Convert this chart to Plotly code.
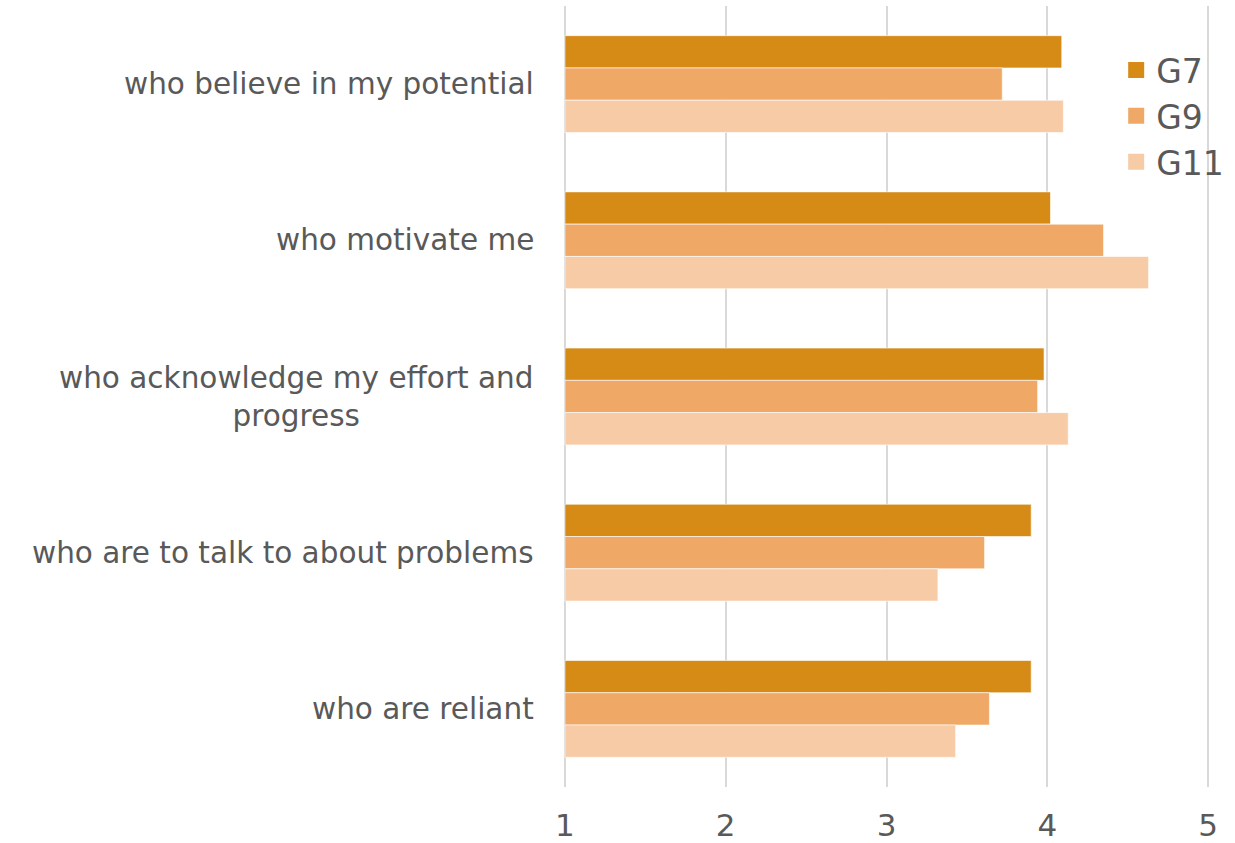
import plotly.graph_objects as go

# Survey items (top to bottom) and mean scores per grade
categories = [
    "who believe in my potential",
    "who motivate me",
    "who acknowledge my effort and<br>progress",
    "who are to talk to about problems",
    "who are reliant",
]
g7 = [4.09, 4.02, 3.98, 3.90, 3.90]
g9 = [3.72, 4.35, 3.94, 3.61, 3.64]
g11 = [4.10, 4.63, 4.13, 3.32, 3.43]

series = [("G7", g7, "#D68B17"), ("G9", g9, "#F0A866"), ("G11", g11, "#F7CBA6")]
x_ticks = [1, 2, 3, 4, 5]

TEXT = "#595959"
FONT = "DejaVu Sans"

fig = go.Figure()
for name, vals, color in series:
    fig.add_trace(go.Bar(
        y=categories, x=[v - 1 for v in vals], base=1, name=name,
        orientation="h", showlegend=False,
        marker=dict(color=color, line=dict(color="rgba(255,255,255,0.6)", width=1)),
    ))

# legend entries with large square swatches
for name, vals, color in series:
    fig.add_trace(go.Scatter(
        x=[None], y=[None], mode="markers", name=name,
        marker=dict(symbol="square", size=19, color=color),
    ))

# category labels, centred on each group left of the plot
for cat in categories:
    fig.add_annotation(
        x=0, xref="paper", y=cat, yref="y", xanchor="right", yanchor="middle",
        xshift=-27, text=cat, showarrow=False, align="center",
        font=dict(family=FONT, size=29.5, color=TEXT),
    )

fig.update_layout(
    width=1235, height=843,
    margin=dict(l=563, r=25, t=6, b=56, autoexpand=False),
    paper_bgcolor="white", plot_bgcolor="white",
    barmode="group", bargap=0.38, bargroupgap=0,
    font=dict(family=FONT, color=TEXT),
    legend=dict(
        x=0.855, y=0.954, xanchor="left", yanchor="top",
        font=dict(family=FONT, size=33, color=TEXT),
        traceorder="normal", itemwidth=30, bgcolor="rgba(0,0,0,0)",
    ),
    xaxis=dict(
        range=[0.988, 5.012], tickvals=x_ticks, ticktext=[str(t) for t in x_ticks],
        showgrid=True, gridcolor="#D9D9D9", gridwidth=1.5,
        zeroline=False, showline=False, ticks="", automargin=False,
        ticklabelstandoff=17,
        tickfont=dict(family=FONT, size=31, color=TEXT),
    ),
    yaxis=dict(
        autorange="reversed", showticklabels=False, showgrid=False,
        zeroline=False, showline=False, ticks="", automargin=False,
    ),
)

fig.write_html("out.html")
